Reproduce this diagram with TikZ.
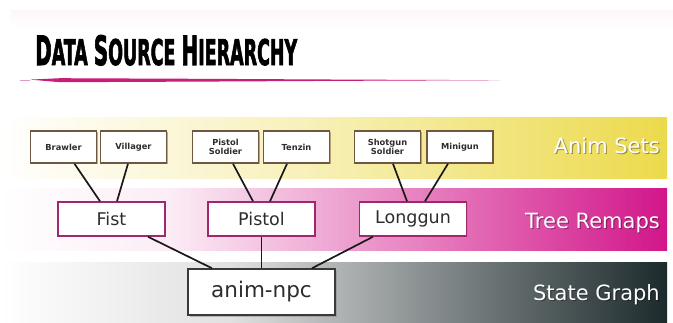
\documentclass[tikz,border=0pt]{standalone}
\usepackage{fontspec}
\usepackage{graphicx}
\setmainfont{DejaVu Sans}
\newfontfamily\titlefont[FakeBold=2.5]{DejaVu Sans Condensed Bold}
\usetikzlibrary{calc,shadows}
\definecolor{animyellow}{RGB}{236,218,76}
\definecolor{remapmag}{RGB}{210,22,138}
\definecolor{graphdark}{RGB}{28,42,44}
\definecolor{setborder}{RGB}{110,88,66}
\definecolor{remapborder}{RGB}{160,38,110}
\definecolor{npcborder}{RGB}{58,58,58}
\definecolor{boxtext}{RGB}{45,45,45}
\definecolor{underlinepink}{RGB}{200,30,120}
\tikzset{
  setbox/.style={draw=setborder, line width=1.5pt, fill=white, minimum width=66pt, minimum height=32pt,
    inner sep=0pt, align=center, font=\fontsize{8.3}{9.4}\selectfont\bfseries, text=boxtext,
    drop shadow={shadow xshift=1.2pt, shadow yshift=-1.2pt, opacity=0.45, fill=brown!60!black}},
  remapbox/.style={draw=remapborder, line width=1.5pt, fill=white, minimum width=107pt, minimum height=34pt,
    inner sep=0pt, font=\fontsize{17.5}{19}\selectfont, text=boxtext,
    drop shadow={shadow xshift=1.2pt, shadow yshift=-1.2pt, opacity=0.4}},
  npcbox/.style={draw=npcborder, line width=1.5pt, fill=white, minimum width=147pt, minimum height=46pt,
    inner sep=0pt, font=\fontsize{21.5}{23}\selectfont, text=boxtext,
    drop shadow={shadow xshift=1.5pt, shadow yshift=-1.5pt, opacity=0.45}},
  link/.style={draw=black!90, line width=1.7pt},
  bandlabel/.style={anchor=base east, inner sep=0pt, font=\fontsize{21}{23}\selectfont, text=white},
  bandshadow/.style={anchor=base east, inner sep=0pt, font=\fontsize{21}{23}\selectfont, text=black, opacity=0.35},
}
\begin{document}
\begin{tikzpicture}[x=1pt,y=-1pt]
\useasboundingbox (0,0) rectangle (673,322);
\fill[white] (0,0) rectangle (673,322);
% faint top strip
\shade[top color=pink!12, bottom color=white] (10,10) rectangle (673,30);
% bands
\shade[left color=white, right color=animyellow!38!white] (0,117) rectangle (300,178);
\shade[left color=animyellow!38!white, right color=animyellow] (300,117) rectangle (667,178);
\shade[left color=white, right color=remapmag!8!white] (0,188) rectangle (170,250);
\shade[left color=remapmag!8!white, middle color=remapmag!42!white, right color=remapmag] (170,188) rectangle (667,250);
\shade[left color=white, right color=black!12] (0,262) rectangle (230,322);
\shade[left color=black!12, middle color=graphdark!55!white, right color=graphdark] (230,262) rectangle (667,322);
% title
\node[anchor=base west, inner sep=0pt] (title) at (35,65)
  {\resizebox{262pt}{30pt}{\titlefont\fontsize{40}{40}\selectfont D\fontsize{35}{35}\selectfont ATA\ \fontsize{40}{40}\selectfont S\fontsize{35}{35}\selectfont OURCE\ \fontsize{40}{40}\selectfont H\fontsize{35}{35}\selectfont IERARCHY}};
\fill[underlinepink] (30,79.6) -- (60,78.2) -- (200,78.8) -- (350,79.6) -- (500,80.2) -- (350,80.8) -- (200,81.6) -- (60,82.2) -- cycle;
\draw[underlinepink!70!white, line width=0.5pt] (20,80.6) -- (30,80.4);
% band labels
\node[bandshadow] (animsetsS) at (661.2,154.2) {Anim Sets};
\node[bandlabel] (animsets) at (660,153) {Anim Sets};
\node[bandshadow] (treeremapsS) at (661.2,229.2) {Tree Remaps};
\node[bandlabel] (treeremaps) at (660,228) {Tree Remaps};
\node[bandshadow] (stategraphS) at (661.2,301.2) {State Graph};
\node[bandlabel] (stategraph) at (660,300) {State Graph};
% anim sets
\node[setbox] (brawler) at (63.5,147) {Brawler};
\node[setbox] (villager) at (133.5,147) {Villager};
\node[setbox] (psoldier) at (225.5,147) {Pistol\\Soldier};
\node[setbox] (tenzin) at (296.5,147) {Tenzin};
\node[setbox] (shotgun) at (387.5,147) {Shotgun\\Soldier};
\node[setbox] (minigun) at (460,147) {Minigun};
% tree remaps
\node[remapbox] (fist) at (111.5,219) {Fist};
\node[remapbox] (pistol) at (261.5,219) {Pistol};
\node[remapbox] (longgun) at (413,219) {Longgun};
% state graph
\node[npcbox] (npc) at (261.5,292) {anim-npc};
% connectors
\draw[link] ($(brawler.south)+(11,0)$) -- ($(fist.north)+(-11.5,0)$);
\draw[link] ($(villager.south)+(-5.5,0)$) -- ($(fist.north)+(5.5,0)$);
\draw[link] ($(psoldier.south)+(7.5,0)$) -- ($(pistol.north)+(-8.5,0)$);
\draw[link] ($(tenzin.south)+(-9.5,0)$) -- ($(pistol.north)+(8.5,0)$);
\draw[link] ($(shotgun.south)+(5.5,0)$) -- ($(longgun.north)+(-6,0)$);
\draw[link] ($(minigun.south)+(-12,0)$) -- ($(longgun.north)+(12,0)$);
\draw[link] ($(fist.south)+(36.5,0)$) -- ($(npc.north)+(-49.5,0)$);
\draw[link] (pistol.south) -- (npc.north);
\draw[link] ($(longgun.south)+(-40,0)$) -- ($(npc.north)+(50.5,0)$);
\end{tikzpicture}
\end{document}
